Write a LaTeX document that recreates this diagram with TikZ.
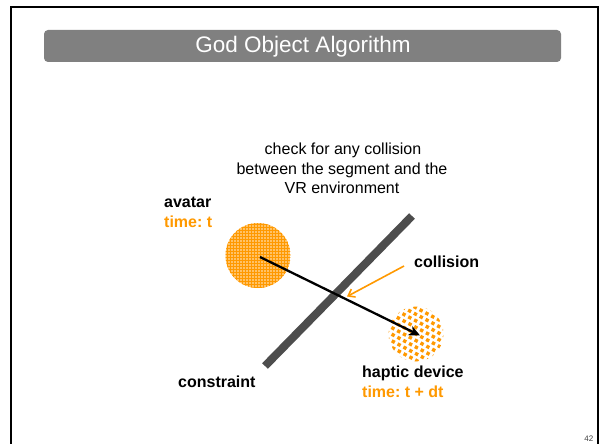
\documentclass[tikz,border=0pt]{standalone}
\usepackage{fontspec}
\setmainfont{Liberation Sans}
\frenchspacing
\usetikzlibrary{arrows.meta}
\definecolor{ppOrange}{HTML}{FF9900}
\definecolor{ppLight}{HTML}{FFC266}
\definecolor{titleGray}{HTML}{808080}
\definecolor{barGray}{HTML}{4D4D4D}
\begin{document}
\begin{tikzpicture}[x=1pt,y=-1pt,
  txt/.style={inner sep=0pt, font=\fontsize{16}{19.5}\selectfont},
  lbl/.style={txt, font=\fontsize{16}{19.5}\selectfont\bfseries},
  olbl/.style={lbl, text=ppOrange},
]
\useasboundingbox (0,0) rectangle (605,444);
\fill[white] (0,0) rectangle (605,444);
% frame
\draw[line width=2.5pt, black] (11,446) -- (11,7) -- (598,7) -- (598,446);
% title
\fill[titleGray, rounded corners=4pt] (44,30) rectangle (561,62);
\node[inner sep=0pt, text=white, font=\fontsize{22.5}{26}\selectfont] (title) at (303,46.5) {God Object Algorithm};
% description
\node[txt, anchor=base] (d1) at (343,154) {check for any collision};
\node[txt, anchor=base] (d2) at (342,174) {between the segment and the};
\node[txt, anchor=base] (d3) at (342,193.5) {VR environment};
% avatar circle
\coordinate (av) at (258,255.5);
\begin{scope}
  \clip (av) circle (32.5);
  \fill[ppLight] (av) circle (33);
  \foreach \k in {0,...,22} {
    \draw[ppOrange, line width=0.8pt] (224+3*\k,220) -- (224+3*\k,292);
    \draw[ppOrange, line width=0.8pt] (224,221+3*\k) -- (294,221+3*\k);
  }
\end{scope}
% haptic circle
\coordinate (hd) at (416,334);
\begin{scope}
  \clip (hd) circle (27.5);
  \begin{scope}[shift={(hd)}, rotate=-28]
  \foreach \r in {-6,...,6} {
    \foreach \c in {-6,...,6} {
      \pgfmathsetmacro{\xx}{6.6*\c+mod(abs(\r),2)*3.3}
      \pgfmathsetmacro{\yy}{5.8*\r}
      \fill[ppOrange] (\xx-1.7,\yy-1.7) rectangle (\xx+1.7,\yy+1.7);
    }
  }
  \end{scope}
\end{scope}
% constraint bar
\coordinate (c1) at (265,366);
\coordinate (c2) at (412,216);
\draw[barGray, line width=8pt] (c1) -- (c2);
% segment arrow
\coordinate (a0) at (260,257);
\coordinate (a1) at (420,335.5);
\draw[black, line width=2.3pt, -{Stealth[length=11pt,width=10pt,inset=3pt]}] (a0) -- (a1);
% collision pointer
\coordinate (p0) at (404,266);
\coordinate (p1) at (347,296.5);
\draw[ppOrange, line width=1.6pt, -{Straight Barb[length=6pt,width=9pt]}] (p0) -- (p1);
% labels
\node[lbl, anchor=base west] (avatar) at (164,207) {avatar};
\node[olbl, anchor=base west] (avtime) at (164,227) {time: t};
\node[lbl, anchor=base west] (coll) at (414,267.5) {collision};
\node[lbl, anchor=base west] (hap) at (362,377) {haptic device};
\node[olbl, anchor=base west] (haptime) at (362,397) {time: t + dt};
\node[lbl, anchor=base west] (cons) at (178,387) {constraint};
% page number
\node[inner sep=0pt, anchor=base east, text=black!75, font=\fontsize{8}{9}\selectfont] (pg) at (593.5,441.5) {42};
\end{tikzpicture}
\end{document}
